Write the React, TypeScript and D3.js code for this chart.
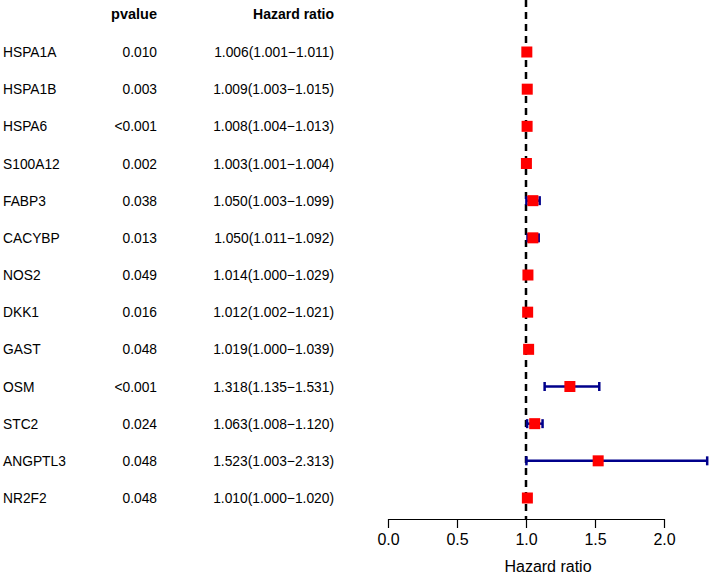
import React, { useEffect, useRef } from 'react';
import * as d3 from 'd3';

const genes = ['HSPA1A', 'HSPA1B', 'HSPA6', 'S100A12', 'FABP3', 'CACYBP', 'NOS2', 'DKK1', 'GAST', 'OSM', 'STC2', 'ANGPTL3', 'NR2F2'];
const pvalues = ['0.010', '0.003', '<0.001', '0.002', '0.038', '0.013', '0.049', '0.016', '0.048', '<0.001', '0.024', '0.048', '0.048'];
const hr = [1.006, 1.009, 1.008, 1.003, 1.05, 1.05, 1.014, 1.012, 1.019, 1.318, 1.063, 1.523, 1.01];
const hrLow = [1.001, 1.003, 1.004, 1.001, 1.003, 1.011, 1.0, 1.002, 1.0, 1.135, 1.008, 1.003, 1.0];
const hrHigh = [1.011, 1.015, 1.013, 1.004, 1.099, 1.092, 1.029, 1.021, 1.039, 1.531, 1.12, 2.313, 1.02];
const xTicks = [0, 0.5, 1, 1.5, 2];

const W = 709;
const H = 575;
const FONT = 'Liberation Sans, Arial, Helvetica, sans-serif';

export default function App() {
  const svgRef = useRef<SVGSVGElement>(null);

  useEffect(() => {
    if (!svgRef.current) return;
    const svg = d3.select(svgRef.current);
    svg.selectAll('*').remove();

    const x = d3.scaleLinear().domain([0, 2]).range([388, 664]);
    const y = d3.scaleLinear().domain([0, genes.length - 1]).range([52, 498]);
    const axisY = 519;

    // headers
    svg.append('text').attr('x', 157).attr('y', 19).attr('text-anchor', 'end')
      .attr('font-family', FONT).attr('font-size', 14.5).attr('font-weight', 'bold').text('pvalue');
    svg.append('text').attr('x', 334).attr('y', 19).attr('text-anchor', 'end')
      .attr('font-family', FONT).attr('font-size', 14).attr('font-weight', 'bold').text('Hazard ratio');

    const rows = svg.append('g').attr('font-family', FONT).attr('font-size', 13.8).attr('fill', '#000');
    genes.forEach((g, i) => {
      const yy = y(i) + 5;
      rows.append('text').attr('x', 3).attr('y', yy).text(g);
      rows.append('text').attr('x', 157).attr('y', yy).attr('text-anchor', 'end').text(pvalues[i]);
      rows.append('text').attr('x', 334).attr('y', yy).attr('text-anchor', 'end')
        .text(`${hr[i].toFixed(3)}(${hrLow[i].toFixed(3)}\u2212${hrHigh[i].toFixed(3)})`);
    });

    // reference line
    svg.append('line').attr('x1', x(1)).attr('x2', x(1)).attr('y1', 0).attr('y2', axisY)
      .attr('stroke', '#000').attr('stroke-width', 2.5).attr('stroke-dasharray', '7,5');

    // error bars
    const eb = svg.append('g').attr('stroke', '#00008B').attr('stroke-width', 2.5);
    genes.forEach((_, i) => {
      const yy = y(i);
      eb.append('line').attr('x1', x(hrLow[i])).attr('x2', x(hrHigh[i])).attr('y1', yy).attr('y2', yy);
      eb.append('line').attr('x1', x(hrLow[i])).attr('x2', x(hrLow[i])).attr('y1', yy - 4.5).attr('y2', yy + 4.5);
      eb.append('line').attr('x1', x(hrHigh[i])).attr('x2', x(hrHigh[i])).attr('y1', yy - 4.5).attr('y2', yy + 4.5);
    });

    // points
    svg.append('g').selectAll('rect').data(hr).enter().append('rect')
      .attr('x', (d) => x(d) - 5.5).attr('y', (_, i) => y(i) - 5.5)
      .attr('width', 11).attr('height', 11).attr('fill', '#FF0000');

    // axis
    const ax = svg.append('g').attr('transform', `translate(0,${axisY})`)
      .call(d3.axisBottom(x).tickValues(xTicks).tickSize(9).tickSizeOuter(0).tickFormat(d3.format('.1f')));
    ax.select('.domain').attr('stroke', '#000').attr('stroke-width', 1.2);
    ax.selectAll('.tick line').attr('stroke', '#000').attr('stroke-width', 1.2);
    ax.selectAll('.tick text').attr('font-family', FONT).attr('font-size', 16).attr('fill', '#000').attr('dy', '0.85em');

    svg.append('text').attr('x', 548).attr('y', 572).attr('text-anchor', 'middle')
      .attr('font-family', FONT).attr('font-size', 16).text('Hazard ratio');
  }, []);

  return (
    <svg ref={svgRef} width={W} height={H} style={{ position: 'absolute', left: 0, top: 0, background: '#fff' }} />
  );
}
